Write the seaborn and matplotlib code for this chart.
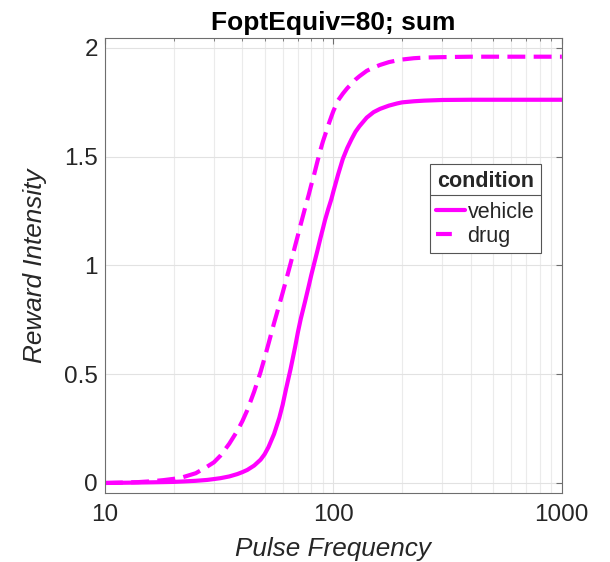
import numpy as np
import pandas as pd
import matplotlib
matplotlib.use("Agg")
import matplotlib.pyplot as plt
import seaborn as sns
from matplotlib.lines import Line2D
from matplotlib.ticker import LogLocator, NullFormatter, FixedLocator

# Pulse frequencies (x) and reward intensity
freq = [10, 12, 14, 16, 18, 20, 22, 25, 28, 30, 32, 35, 38, 40, 42, 45, 48, 50,
        52, 55, 58, 60, 62, 65, 68, 70, 72, 75, 78, 80, 82, 85, 88, 90, 92, 95,
        98, 100, 105, 110, 115, 120, 125, 130, 140, 150, 160, 175, 190, 200,
        225, 250, 300, 400, 1000]

vehicle = [0.000, 0.001, 0.002, 0.003, 0.004, 0.005, 0.007, 0.010, 0.014, 0.018,
           0.022, 0.030, 0.041, 0.050, 0.060, 0.080, 0.107, 0.132, 0.165, 0.225,
           0.300, 0.360, 0.430, 0.525, 0.625, 0.695, 0.755, 0.830, 0.905, 0.955,
           1.000, 1.065, 1.130, 1.170, 1.210, 1.260, 1.305, 1.340, 1.420, 1.490,
           1.540, 1.580, 1.615, 1.640, 1.680, 1.705, 1.720, 1.735, 1.745, 1.750,
           1.755, 1.758, 1.761, 1.762, 1.762]

drug = [0.000, 0.002, 0.004, 0.008, 0.013, 0.019, 0.027, 0.045, 0.075, 0.095,
        0.125, 0.180, 0.240, 0.285, 0.335, 0.420, 0.510, 0.575, 0.640, 0.735,
        0.820, 0.875, 0.930, 1.010, 1.090, 1.140, 1.190, 1.260, 1.325, 1.370,
        1.410, 1.475, 1.535, 1.570, 1.600, 1.645, 1.685, 1.710, 1.760, 1.790,
        1.815, 1.835, 1.855, 1.870, 1.895, 1.910, 1.922, 1.935, 1.943, 1.947,
        1.953, 1.956, 1.958, 1.960, 1.960]

conditions = ["vehicle", "drug"]
title = "FoptEquiv=80; sum"

df = pd.DataFrame({
    "Pulse Frequency": freq * 2,
    "Reward Intensity": vehicle + drug,
    "condition": ["vehicle"] * len(freq) + ["drug"] * len(freq),
})

sns.set_theme(style="white")
plt.rcParams["font.family"] = ["Liberation Sans", "DejaVu Sans"]

magenta = "#ff00ff"
axis_grey = "#262626"
dash = (4.3, 2.0)

fig = plt.figure(figsize=(6.10, 5.62), dpi=100)
ax = fig.add_axes([0.172, 0.1228, 0.749, 0.8096])

sns.lineplot(data=df, x="Pulse Frequency", y="Reward Intensity",
             style="condition", style_order=conditions,
             dashes={"vehicle": "", "drug": dash},
             color=magenta, linewidth=3, legend=False, ax=ax)

ax.set_xscale("log")
ax.set_xlim(10, 1000)
ax.set_ylim(-0.046, 2.046)

ax.xaxis.set_major_locator(FixedLocator([10, 100, 1000]))
ax.set_xticklabels(["10", "100", "1000"])
ax.xaxis.set_minor_locator(LogLocator(base=10, subs=np.arange(2, 10)))
ax.xaxis.set_minor_formatter(NullFormatter())
ax.set_yticks([0, 0.5, 1, 1.5, 2])
ax.set_yticklabels(["0", "0.5", "1", "1.5", "2"])

# MATLAB-like grid and box
ax.grid(True, which="major", color="#e2e2e2", linewidth=0.8)
ax.grid(True, which="minor", axis="x", color="#ebebeb", linewidth=0.8)
ax.set_axisbelow(True)
for s in ax.spines.values():
    s.set_visible(True)
    s.set_color("#6e6e6e")
    s.set_linewidth(0.8)
ax.tick_params(which="both", direction="in", top=True, right=True,
               colors="#6e6e6e", labelcolor=axis_grey, labelsize=17.5)
ax.tick_params(which="major", length=4, width=0.8)
ax.tick_params(which="minor", length=2.5, width=0.6)
ax.tick_params(axis="x", pad=8)
ax.tick_params(axis="y", pad=5)

ax.set_xlabel("Pulse Frequency", fontsize=18.8, style="italic", color=axis_grey, labelpad=8)
ax.set_ylabel("Reward Intensity", fontsize=18.8, style="italic", color=axis_grey, labelpad=12)
ax.set_title(title, fontsize=19, fontweight="bold", color="black", pad=6)

# legend with a boxed title row
handles = [
    Line2D([], [], color=magenta, linewidth=3),
    Line2D([], [], color=magenta, linewidth=3, dashes=(3.8, 6)),
]
leg = ax.legend(handles, conditions, title="condition", loc="upper left",
                bbox_to_anchor=(0.711, 0.722), borderaxespad=0, fontsize=15.5,
                title_fontproperties={"weight": "bold", "size": 15.5},
                handlelength=1.35, handletextpad=0.1, borderpad=0.3,
                labelspacing=0.15, fancybox=False, framealpha=1,
                edgecolor="#555555")
leg.get_frame().set_linewidth(0.8)
leg._legend_box.sep = 7

fig.canvas.draw()
renderer = fig.canvas.get_renderer()
frame_bb = leg.get_frame().get_window_extent(renderer)
title_bb = leg.get_title().get_window_extent(renderer)
sep_y = (title_bb.y0 - 3) / fig.bbox.height
fig.add_artist(Line2D([frame_bb.x0 / fig.bbox.width, frame_bb.x1 / fig.bbox.width],
                      [sep_y, sep_y], color="#555555", linewidth=0.8))

fig.savefig("out.png", dpi=100)
